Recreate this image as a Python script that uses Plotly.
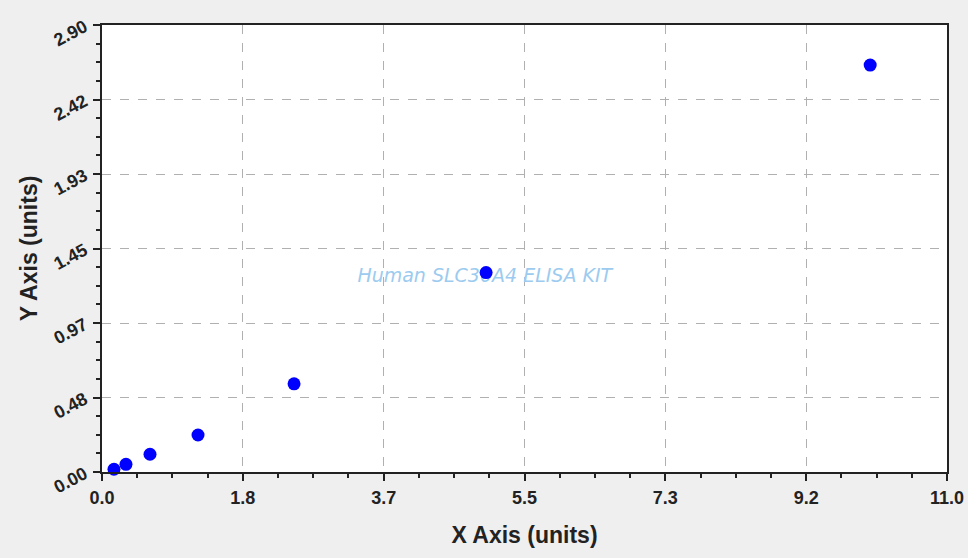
import plotly.graph_objects as go

x_values = [0.156, 0.312, 0.625, 1.25, 2.5, 5.0, 10.0]
y_values = [0.018, 0.05, 0.115, 0.24, 0.572, 1.294, 2.64]

x_max = 11.0
y_max = 2.90
watermark = "Human SLC30A4 ELISA KIT"

fig = go.Figure()
# watermark drawn first so the markers sit on top of it
fig.add_trace(go.Scatter(
    x=[x_max * 0.453], y=[y_max * 0.436], mode="text", text=[watermark],
    textfont=dict(family="DejaVu Sans, Verdana", size=19, color="#9ccbef", style="italic"),
    showlegend=False, hoverinfo="skip",
))
fig.add_trace(go.Scatter(
    x=x_values, y=y_values, mode="markers",
    marker=dict(color="#0000ff", size=13, line=dict(width=0)),
    showlegend=False, cliponaxis=False,
))

axis_common = dict(
    showline=True, linecolor="#222222", linewidth=1.5, mirror=True,
    ticks="outside", ticklen=7, tickcolor="#222222", tickwidth=1.5,
    showgrid=True, gridcolor="#b0b0b0", griddash="dash", gridwidth=1,
    zeroline=False, automargin=False,
    tickfont=dict(family="Arial, Liberation Sans", size=18, color="#222222", weight="bold"),
    title_font=dict(family="Arial, Liberation Sans", size=23, color="#222222", weight="bold"),
)

fig.update_xaxes(
    **axis_common,
    range=[0, x_max + 1e-6], tickmode="linear", tick0=0, dtick=x_max / 6,
    tickformat=".1f", ticklabelstandoff=2,
    minor=dict(ticks="outside", ticklen=4, dtick=x_max / 24, tick0=0,
               tickcolor="#222222", tickwidth=1.5, showgrid=False),
    title=dict(text="X Axis (units)", standoff=20),
)
fig.update_yaxes(
    **axis_common,
    range=[0, y_max + 1e-6], tickmode="linear", tick0=0, dtick=y_max / 6,
    tickformat=".2f", tickangle=-28, ticklabelstandoff=5,
    minor=dict(ticks="outside", ticklen=4, dtick=y_max / 24, tick0=0,
               tickcolor="#222222", tickwidth=1.5, showgrid=False),
    title=dict(text="Y Axis (units)", standoff=6),
)

fig.update_layout(
    width=968, height=558,
    margin=dict(l=102, r=21, t=25, b=86),
    paper_bgcolor="#efefef", plot_bgcolor="#ffffff",
)

fig.write_html(
    "out.html",
    config={"displayModeBar": False},
    post_script="document.body.style.margin='0';document.body.style.overflow='hidden';document.body.style.background='#efefef';",
)
